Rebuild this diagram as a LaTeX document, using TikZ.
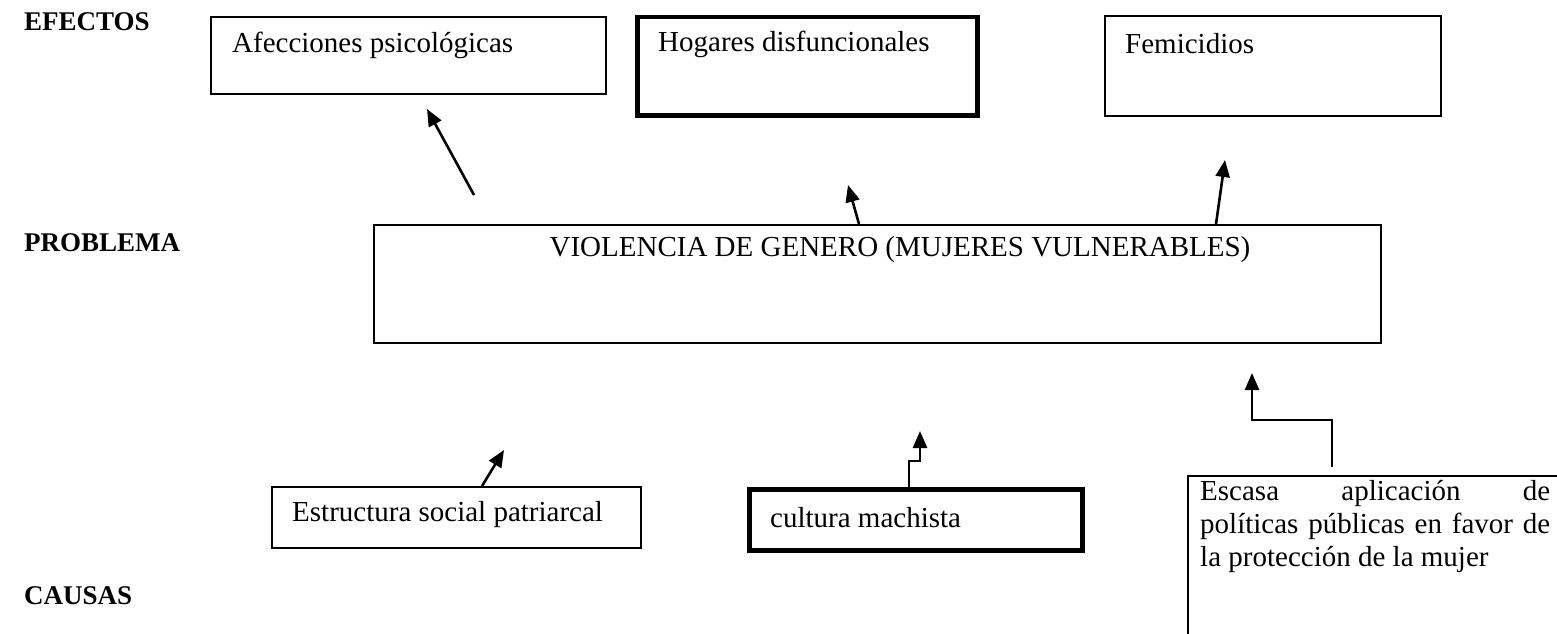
\documentclass[tikz,border=0pt]{standalone}
\usepackage{fontspec}
\setmainfont{Liberation Serif}
\usetikzlibrary{arrows.meta}
\tikzset{
  box/.style={draw, line width=1.6pt, inner sep=0pt, anchor=north west},
  thickbox/.style={box, line width=4.5pt},
  lbl/.style={font=\fontsize{29}{33}\selectfont, anchor=west, inner sep=0pt},
  hdr/.style={font=\fontsize{27}{30}\selectfont\bfseries, anchor=west, inner sep=0pt},
  arr/.style={line width=2.6pt, -{Triangle[length=17pt,width=14pt]}},
}
\begin{document}
\begin{tikzpicture}[x=1pt,y=-1pt]
\clip (0,0) rectangle (1557,634);
\fill[white] (0,0) rectangle (1557,634);
% headers
\node[hdr] (hefe) at (24,22) {EFECTOS};
\node[hdr] (hpro) at (24,243) {PROBLEMA};
\node[hdr] (hcau) at (24,596) {CAUSAS};
% effect boxes
\node[box, minimum width=395pt, minimum height=77pt] (afe) at (210,16) {};
\node[lbl] (afeT) at (232,45) {Afecciones psicológicas};
\node[thickbox, minimum width=340pt, minimum height=98pt] (hog) at (635,15) {};
\node[lbl] (hogT) at (658,44) {Hogares disfuncionales};
\node[box, minimum width=336pt, minimum height=100pt] (fem) at (1104,15) {};
\node[lbl] (femT) at (1125,44) {Femicidios};
% problem
\node[box, minimum width=1007pt, minimum height=118pt] (prob) at (373,224) {};
\node[lbl, anchor=center] (probT) at (900,250) {VIOLENCIA DE GENERO (MUJERES VULNERABLES)};
% causes
\node[box, minimum width=369pt, minimum height=61pt] (est) at (271,486) {};
\node[lbl] (estT) at (292,515) {Estructura social patriarcal};
\node[thickbox, minimum width=333pt, minimum height=61pt] (cul) at (747,487) {};
\node[lbl] (culT) at (770,518) {cultura machista};
\node[box, minimum width=420pt, minimum height=220pt] (esc) at (1187,475) {};
\node[lbl, anchor=north west, align=left] (escT) at (1200,480)
  {\makebox[350pt][s]{Escasa aplicación de}\\
   \makebox[350pt][s]{políticas públicas en favor de}\\
   la protección de la mujer};
% arrows
\coordinate (a1s) at (474,195); \coordinate (a1e) at (427,109);
\draw[arr] (a1s) -- (a1e);
\coordinate (a2s) at (prob.north -| 859,0); \coordinate (a2e) at (848,185);
\draw[arr] (a2s) -- (a2e);
\coordinate (a3s) at (prob.north -| 1216,0); \coordinate (a3e) at (1225,160);
\draw[arr] (a3s) -- (a3e);
\coordinate (a4s) at (est.north -| 482,0); \coordinate (a4e) at (504,450);
\draw[arr] (a4s) -- (a4e);
\coordinate (a5s) at (cul.north -| 909,0); \coordinate (a5e) at (920,431);
\draw[arr] (a5s) -- (909,461) -- (920,461) -- (a5e);
\coordinate (a6s) at (1332,467); \coordinate (a6e) at (1252,373);
\draw[arr] (a6s) -- (1332,420) -- (1252,420) -- (a6e);
\end{tikzpicture}
\end{document}
